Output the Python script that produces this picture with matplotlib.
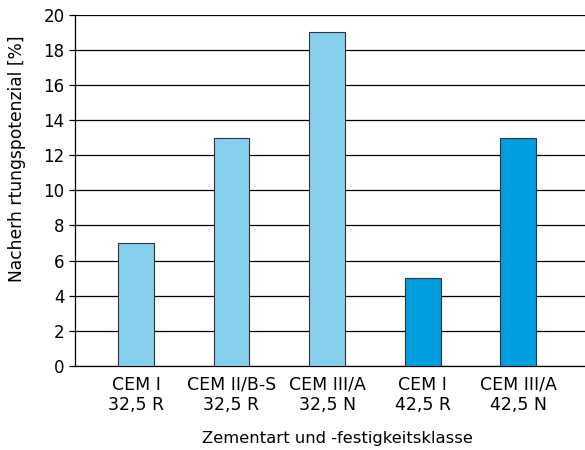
import matplotlib.pyplot as plt

plt.rcParams['font.family'] = ['DejaVu Sans']

# Data
categories = ["CEM I\n32,5 R", "CEM II/B-S\n32,5 R", "CEM III/A\n32,5 N", "CEM I\n42,5 R", "CEM III/A\n42,5 N"]
values = [7, 13, 19, 5, 13]
bar_colors = ["#87cfee", "#87cfee", "#87cfee", "#009ddf", "#009ddf"]

fig = plt.figure(figsize=(5.85, 4.5), dpi=100)
ax = fig.add_axes([0.128, 0.187, 0.872, 0.78])

x = list(range(len(categories)))
ax.bar(x, values, width=0.375, color=bar_colors, edgecolor="#333333", linewidth=0.8, zorder=3)

ax.set_ylim(0, 20)
ax.set_xlim(-0.64, 4.70)
ax.set_yticks(range(0, 21, 2))
ax.yaxis.grid(True, color="black", linewidth=0.9, zorder=0)
ax.set_axisbelow(True)

ax.set_xticks(x)
ax.set_xticklabels(categories, fontsize=12.5, linespacing=1.2)
ax.tick_params(axis='x', length=0, pad=7)
ax.tick_params(axis='y', direction='out', length=4, width=0.9, labelsize=12, pad=3.5)

for side in ['right', 'top']:
    ax.spines[side].set_visible(False)
ax.spines['left'].set_linewidth(0.9)
ax.spines['bottom'].set_linewidth(0.9)

ax.set_ylabel("Nacherh rtungspotenzial [%]", fontsize=12.3)
ax.yaxis.set_label_coords(-0.095, 0.59)
ax.set_xlabel("Zementart und -festigkeitsklasse", fontsize=11.8)
ax.xaxis.set_label_coords(0.514, -0.185)

fig.savefig("out.png", dpi=100)
